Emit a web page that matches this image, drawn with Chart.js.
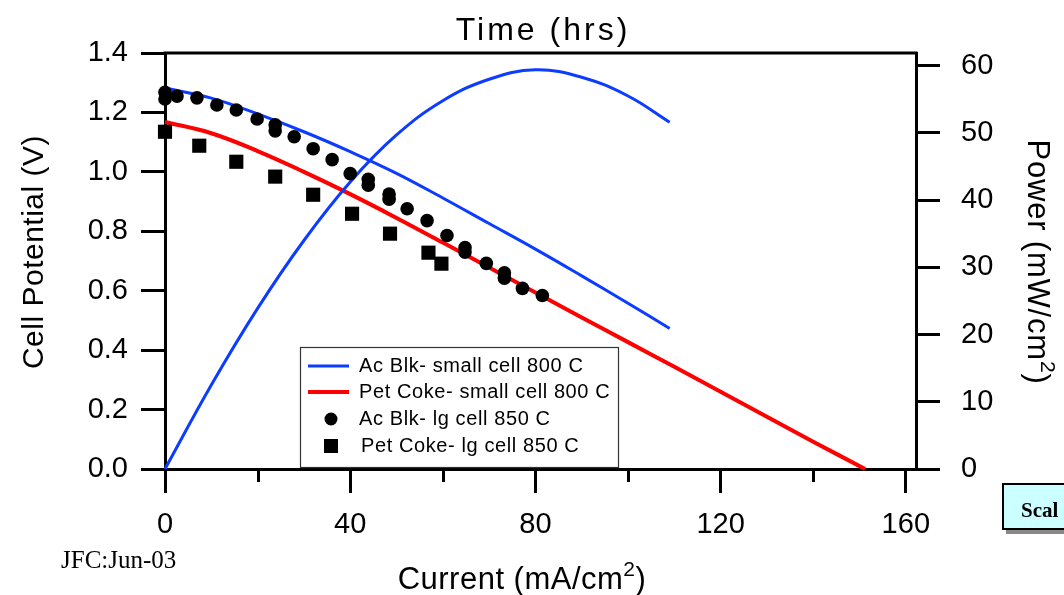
<!DOCTYPE html>
<html>
<head>
<meta charset="utf-8">
<script src="https://cdn.jsdelivr.net/npm/chart.js@4.4.1/dist/chart.umd.min.js"></script>
<style>
  html, body { margin: 0; padding: 0; background: #fff; }
  #wrap { position: relative; width: 1064px; height: 595px; }
</style>
</head>
<body>
<div id="wrap"><canvas id="c"></canvas></div>
<script>
// ---- Data ----
const currentSmallAcBlk = [0, 10, 20, 30, 40, 50, 60, 70, 80, 90, 100, 109];
const potentialSmallAcBlk = [1.282, 1.248, 1.195, 1.135, 1.068, 0.995, 0.912, 0.826, 0.740, 0.650, 0.558, 0.473];
const powerSmallAcBlk = [0, 12.5, 23.9, 34.0, 42.7, 49.7, 54.8, 58.0, 59.4, 58.3, 55.5, 51.6];

const currentSmallPetCoke = [0, 10, 20, 30, 40, 50, 60, 70, 80, 90, 100, 110, 120, 130, 140, 151.2];
const potentialSmallPetCoke = [1.168, 1.130, 1.070, 1.000, 0.925, 0.845, 0.762, 0.678, 0.594, 0.510, 0.427, 0.344, 0.260, 0.176, 0.092, 0.0];

const currentLgAcBlk = [0, 0, 2.6, 6.9, 11.2, 15.4, 19.9, 23.8, 23.8, 27.9, 32.0, 36.1, 40.0, 43.9, 43.9, 48.4, 48.4, 52.3, 56.6, 60.9, 64.8, 64.8, 69.4, 73.3, 73.3, 77.2, 81.5];
const potentialLgAcBlk = [1.268, 1.245, 1.255, 1.249, 1.225, 1.208, 1.178, 1.158, 1.138, 1.118, 1.078, 1.041, 0.994, 0.975, 0.955, 0.925, 0.908, 0.876, 0.836, 0.786, 0.745, 0.730, 0.692, 0.660, 0.642, 0.608, 0.584];

const currentLgPetCoke = [0, 7.4, 15.4, 23.8, 32.0, 40.4, 48.6, 56.9, 59.7];
const potentialLgPetCoke = [1.135, 1.088, 1.034, 0.984, 0.923, 0.859, 0.792, 0.728, 0.691];

const seriesLabels = ['Ac Blk- small cell 800 C', 'Pet Coke- small cell 800 C', 'Ac Blk- lg cell 850 C', 'Pet Coke- lg cell 850 C'];
const xMajorTicks = [0, 40, 80, 120, 160];
const xMinorTicks = [20, 60, 100, 140];
const leftTicks = [0, 0.2, 0.4, 0.6, 0.8, 1.0, 1.2, 1.4];
const rightTicks = [0, 10, 20, 30, 40, 50, 60];
const topTitle = 'Time (hrs)';
const leftTitle = 'Cell Potential (V)';
const bottomTitleParts = ['Current (mA/cm', '2', ')'];
const rightTitleParts = ['Power (mW/cm', '2', ')'];
const footnote = 'JFC:Jun-03';
const buttonText = 'Scal';

// ---- helpers ----
const zip = (xs, ys) => xs.map((x, i) => ({ x: x, y: ys[i] }));
const SANS = "'Liberation Sans', Arial, sans-serif";
const SERIF = "'Liberation Serif', 'Times New Roman', serif";
const BLUE = '#0b3cff';
const RED = '#ff0000';

Chart.defaults.font.family = SANS;
Chart.defaults.color = '#000';

function drawRich(ctx, parts, x, y, mainSize, supSize, spacing) {
  const fonts = [mainSize + 'px ' + SANS, supSize + 'px ' + SANS, mainSize + 'px ' + SANS];
  const offs = [0, -mainSize * 0.42, 0];
  ctx.letterSpacing = spacing + 'px';
  const widths = parts.map((p, i) => { ctx.font = fonts[i]; return ctx.measureText(p).width; });
  const total = widths.reduce((a, b) => a + b, 0);
  let cx = x - total / 2;
  ctx.textAlign = 'left';
  ctx.textBaseline = 'alphabetic';
  parts.forEach((p, i) => {
    ctx.font = fonts[i];
    ctx.fillText(p, cx, y + offs[i]);
    cx += widths[i];
  });
  ctx.letterSpacing = '0px';
}

const decor = {
  id: 'decor',
  afterDraw(chart) {
    const { ctx, chartArea: ca, scales } = chart;
    const sx = scales.x;
    ctx.save();
    ctx.strokeStyle = '#000';
    ctx.fillStyle = '#000';
    ctx.lineWidth = 3;
    // top frame line
    ctx.beginPath();
    ctx.moveTo(ca.left - 1.5, ca.top);
    ctx.lineTo(ca.right + 1.5, ca.top);
    ctx.stroke();
    // minor ticks on the bottom axis
    xMinorTicks.forEach(v => {
      const px = Math.round(sx.getPixelForValue(v)) + 0.5;
      ctx.beginPath();
      ctx.moveTo(px, ca.bottom);
      ctx.lineTo(px, ca.bottom + 13);
      ctx.stroke();
    });

    // top title
    ctx.font = '32px ' + SANS;
    ctx.letterSpacing = '3px';
    ctx.textAlign = 'center';
    ctx.textBaseline = 'alphabetic';
    ctx.fillText(topTitle, 543, 40);
    ctx.letterSpacing = '0px';

    // left title
    ctx.save();
    ctx.translate(43, 252);
    ctx.rotate(-Math.PI / 2);
    ctx.font = '30px ' + SANS;
    ctx.letterSpacing = '0.5px';
    ctx.textAlign = 'center';
    ctx.fillText(leftTitle, 0, 0);
    ctx.letterSpacing = '0px';
    ctx.restore();

    // bottom title
    drawRich(ctx, bottomTitleParts, 522, 589, 31, 21, 0.5);

    // right title
    ctx.save();
    ctx.translate(1028, 262);
    ctx.rotate(Math.PI / 2);
    drawRich(ctx, rightTitleParts, 0, 0, 31, 21, 0.8);
    ctx.restore();

    // footnote
    ctx.font = '25px ' + SERIF;
    ctx.textAlign = 'left';
    ctx.fillText(footnote, 61, 568);

    // button at lower right
    ctx.fillStyle = '#888';
    ctx.fillRect(1006, 487, 70, 47);
    ctx.fillStyle = '#ccffff';
    ctx.fillRect(1002, 483, 70, 47);
    ctx.lineWidth = 2;
    ctx.strokeStyle = '#000';
    ctx.strokeRect(1003, 484, 70, 45);
    ctx.fillStyle = '#000';
    ctx.font = 'bold 21px ' + SERIF;
    ctx.fillText(buttonText, 1021, 517);

    // legend
    const lx = 300, ly = 347, lw = 318, lh = 120;
    ctx.fillStyle = '#fff';
    ctx.fillRect(lx, ly, lw, lh);
    ctx.lineWidth = 1.2;
    ctx.strokeStyle = '#333';
    ctx.strokeRect(lx + 0.5, ly + 0.5, lw, lh);
    const rows = [366, 392, 419, 446];
    const dsets = chart.data.datasets;
    ctx.font = '20px ' + SANS;
    ctx.letterSpacing = '0.6px';
    ctx.textBaseline = 'middle';
    ctx.textAlign = 'left';
    [0, 1].forEach(i => {
      ctx.strokeStyle = dsets[i].borderColor;
      ctx.lineWidth = dsets[i].borderWidth;
      ctx.beginPath();
      ctx.moveTo(308, rows[i]);
      ctx.lineTo(349, rows[i]);
      ctx.stroke();
    });
    ctx.fillStyle = '#000';
    ctx.beginPath();
    ctx.arc(331, rows[2], 6.5, 0, Math.PI * 2);
    ctx.fill();
    ctx.fillRect(324, rows[3] - 7, 14, 14);
    seriesLabels.forEach((t, i) => {
      ctx.fillText(t, i === 3 ? 361 : 359, rows[i]);
    });
    ctx.letterSpacing = '0px';
    ctx.restore();
  }
};

const axisGrid = { drawOnChartArea: false, drawTicks: true, tickLength: 24, color: '#000', lineWidth: 3 };
const axisBorder = { display: true, color: '#000', width: 3 };
const tickFont = { size: 29, family: SANS };

new Chart(document.getElementById('c'), {
  type: 'scatter',
  data: {
    datasets: [
      { label: seriesLabels[0], type: 'line', data: zip(currentSmallAcBlk, potentialSmallAcBlk), yAxisID: 'y',
        borderColor: BLUE, borderWidth: 3, pointRadius: 0, tension: 0.4, fill: false, clip: false, order: 3 },
      { label: seriesLabels[1], type: 'line', data: zip(currentSmallPetCoke, potentialSmallPetCoke), yAxisID: 'y',
        borderColor: RED, borderWidth: 4, pointRadius: 0, tension: 0.4, fill: false, clip: false, order: 4 },
      { label: seriesLabels[2], data: zip(currentLgAcBlk, potentialLgAcBlk), yAxisID: 'y',
        pointStyle: 'circle', pointRadius: 6.8, pointBorderWidth: 0, backgroundColor: '#000', borderColor: '#000', clip: false, order: 0 },
      { label: seriesLabels[3], data: zip(currentLgPetCoke, potentialLgPetCoke), yAxisID: 'y',
        pointStyle: 'rect', pointRadius: 10, pointBorderWidth: 0, backgroundColor: '#000', borderColor: '#000', clip: false, order: 1 },
      { label: 'Power', type: 'line', data: zip(currentSmallAcBlk, powerSmallAcBlk), yAxisID: 'y2',
        borderColor: BLUE, borderWidth: 3, pointRadius: 0, tension: 0.4, fill: false, clip: false, order: 2 }
    ]
  },
  options: {
    responsive: true,
    maintainAspectRatio: false,
    animation: false,
    events: [],
    layout: { padding: { top: 53, left: 0, right: 0, bottom: 0 } },
    plugins: { legend: { display: false }, tooltip: { enabled: false }, title: { display: false } },
    scales: {
      x: {
        type: 'linear', position: 'bottom', min: 0, max: 162.2,
        afterBuildTicks: s => { s.ticks = xMajorTicks.map(v => ({ value: v })); },
        ticks: { font: tickFont, padding: 15, color: '#000', maxRotation: 0, autoSkip: false, callback: v => String(v) },
        grid: axisGrid, border: axisBorder,
        afterFit: s => { s.height = 126; }
      },
      y: {
        type: 'linear', position: 'left', min: 0, max: 1.4,
        afterBuildTicks: s => { s.ticks = leftTicks.map(v => ({ value: v })); },
        ticks: { font: tickFont, padding: 13, color: '#000', autoSkip: false, callback: v => Number(v).toFixed(1) },
        grid: axisGrid, border: axisBorder,
        afterFit: s => { s.width = 165; }
      },
      y2: {
        type: 'linear', position: 'right', min: 0, max: 61.9,
        afterBuildTicks: s => { s.ticks = rightTicks.map(v => ({ value: v })); },
        ticks: { font: tickFont, padding: 21, color: '#000', autoSkip: false, callback: v => String(v) },
        grid: axisGrid, border: axisBorder,
        afterFit: s => { s.width = 148; }
      }
    }
  },
  plugins: [decor]
});
</script>
</body>
</html>
